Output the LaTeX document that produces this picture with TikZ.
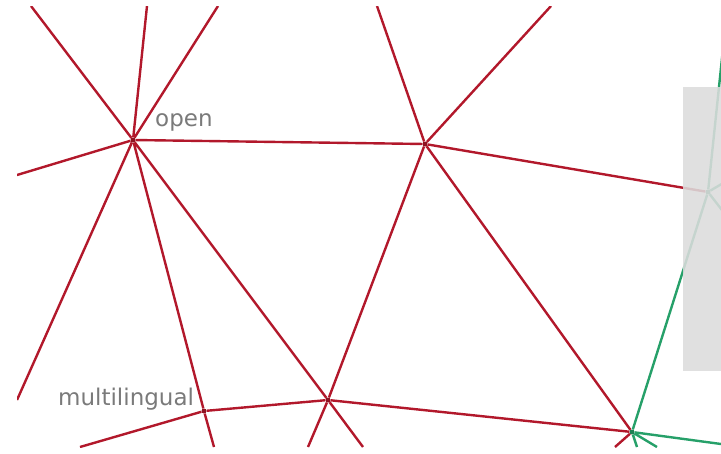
\documentclass[tikz,border=0pt]{standalone}
\usepackage{fontspec}
\setmainfont{DejaVu Sans}
\usetikzlibrary{positioning}
\definecolor{edgered}{RGB}{178,24,43}
\definecolor{edgegreen}{RGB}{38,160,105}
\definecolor{veil}{RGB}{220,220,220}
\begin{document}
\begin{tikzpicture}[x=1pt,y=-1pt,
  redge/.style={draw=edgered,line width=2.4pt},
  gedge/.style={draw=edgegreen,line width=2.4pt},
  dot/.style={circle,fill=edgered!80!black,inner sep=0pt,minimum size=5pt},
  gdot/.style={dot,fill=edgegreen!80!black},
  lbl/.style={text=black!52,font=\fontsize{23}{27}\selectfont,anchor=base west,inner sep=0pt}]
\useasboundingbox (0,0) rectangle (721,453);
\begin{scope}
\clip (17,6) rectangle (721,447);
\node[dot] (open) at (133,140) {};
\node[dot] (hub) at (425,144) {};
\node[dot] (multi) at (204,411) {};
\node[dot] (low) at (328,400) {};
\node[gdot] (fork) at (632,432) {};
\node[gdot] (hid) at (708,192) {};
\coordinate (n1) at (31,6); \coordinate (n2) at (147,6); \coordinate (n3) at (218,6);
\coordinate (n4) at (377,6); \coordinate (n5) at (551,6);
\coordinate (w1) at (17,175); \coordinate (w2) at (17,400);
\coordinate (s1) at (80,447); \coordinate (s2) at (214,447); \coordinate (s3) at (308,447);
\coordinate (s4) at (363,447); \coordinate (s5) at (615,447); \coordinate (s6) at (637,447);
\coordinate (s7) at (657,447); \coordinate (e1) at (721,444); \coordinate (e2) at (726,20);
\coordinate (e3) at (725,182); \coordinate (e4) at (725,214);
\draw[redge] (open) -- (n1) (open) -- (n2) (open) -- (n3) (open) -- (w1) (open) -- (w2);
\draw[redge] (open) -- (hub) (open) -- (multi) (open) -- (low);
\draw[redge] (hub) -- (n4) (hub) -- (n5) (hub) -- (hid) (hub) -- (low) (hub) -- (fork);
\draw[redge] (multi) -- (s1) (multi) -- (s2) (multi) -- (low);
\draw[redge] (low) -- (s3) (low) -- (s4) (low) -- (fork) (fork) -- (s5);
\draw[gedge] (fork) -- (hid) (fork) -- (s6) (fork) -- (s7) (fork) -- (e1);
\draw[gedge] (hid) -- (e2) (hid) -- (e3) (hid) -- (e4);
\end{scope}
\fill[veil,opacity=0.88] (683,87) rectangle (721,371);
\node[lbl] (openlbl) at (155,126) {open};
\node[lbl] (multilbl) at (58,405) {multilingual};
\end{tikzpicture}
\end{document}
